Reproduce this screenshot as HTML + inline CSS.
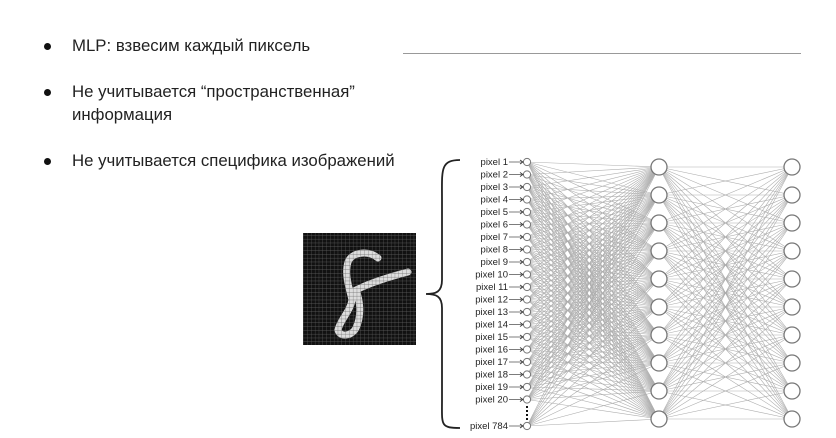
<!DOCTYPE html>
<html><head><meta charset="utf-8"><style>
body{margin:0;width:836px;height:438px;background:#fff;overflow:hidden;font-family:"Liberation Sans","Noto Sans CJK SC",sans-serif;position:relative}
.b{position:absolute;font-size:16.8px;color:#222;line-height:23px}
.d{position:absolute;width:7px;height:7px;border-radius:50%;background:#111}
</style></head><body>
<div class="d" style="left:44px;top:43px"></div><div class="b" style="left:72px;top:34px">MLP: взвесим каждый пиксель</div>
<div class="d" style="left:44px;top:89px"></div><div class="b" style="left:72px;top:80px">Не учитывается “пространственная”<br>информация</div>
<div class="d" style="left:44px;top:158px"></div><div class="b" style="left:72px;top:149px">Не учитывается специфика изображений</div>
<div style="position:absolute;left:403px;top:53px;width:398px;height:1px;background:#999"></div>
<svg id="s" width="836" height="438" style="position:absolute;left:0;top:0" xmlns="http://www.w3.org/2000/svg">
<defs><pattern id="g" width="3.8" height="3.8" patternUnits="userSpaceOnUse"><path d="M3.8 0V3.8H0" fill="none" stroke="#666" stroke-width="0.6"/></pattern></defs>
<rect x="303" y="233" width="113" height="112" fill="#111"/>
<path d="M378 258 C368 250 352 252 348 262 C344 275 350 290 352 300 C350 312 340 320 338 330 C340 338 352 336 356 328 C362 315 360 300 356 290 C366 285 385 278 408 272" fill="none" stroke="#ddd" stroke-width="7" stroke-linecap="round"/>
<rect x="303" y="233" width="113" height="112" fill="url(#g)"/>
<path d="M460 160 C440 160 442 170 442 200 L442 280 C442 292 436 294 426 294 C436 294 442 296 442 308 L442 400 C442 425 440 428 460 428" fill="none" stroke="#222" stroke-width="1.8"/>
<g id="L" stroke="#999" stroke-width="0.6" opacity="0.8"></g>
<g id="N" fill="#fff" stroke="#777"></g>
<g id="T" font-size="9.5" fill="#222" text-anchor="end"></g>
</svg>
<script>
var ns="http://www.w3.org/2000/svg",L=document.getElementById('L'),N=document.getElementById('N'),T=document.getElementById('T');
function el(p,t,a){var e=document.createElementNS(ns,t);for(var k in a)e.setAttribute(k,a[k]);p.appendChild(e);return e;}
var iy=[];for(var i=0;i<20;i++)iy.push(162+i*12.5);iy.push(426);
var hy=[];for(var j=0;j<10;j++)hy.push(167+j*28);
iy.forEach(function(a){hy.forEach(function(b){el(L,'line',{x1:527,y1:a,x2:659,y2:b});});});
hy.forEach(function(a){hy.forEach(function(b){el(L,'line',{x1:659,y1:a,x2:792,y2:b});});});
iy.forEach(function(y,i){el(N,'circle',{cx:527,cy:y,r:3.6,'stroke-width':1});
var t=el(T,'text',{x:508,y:y+3});t.textContent='pixel '+(i<20?i+1:784);
el(L,'line',{x1:509,y1:y,x2:522,y2:y,stroke:'#333','stroke-width':0.8,opacity:1});
el(T,'path',{d:'M520 '+(y-2)+'L523 '+y+'L520 '+(y+2),fill:'none',stroke:'#333','stroke-width':0.8});});
[406,410,414,418].forEach(function(y){el(T,'rect',{x:526,y:y,width:2,height:2,fill:'#111'});});
hy.forEach(function(y){el(N,'circle',{cx:659,cy:y,r:8,'stroke-width':1.3});el(N,'circle',{cx:792,cy:y,r:8,'stroke-width':1.3});});
</script>
</body></html>
